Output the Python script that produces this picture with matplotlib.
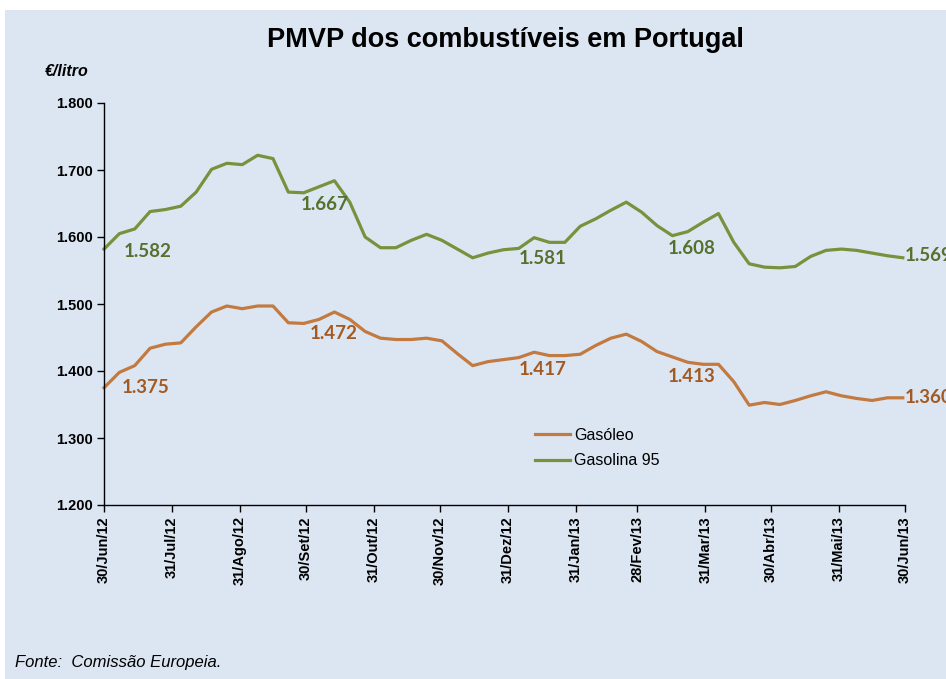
import matplotlib
matplotlib.use("Agg")
import matplotlib.pyplot as plt
import matplotlib.dates as mdates
import numpy as np
import datetime as dt

# weekly prices, 30/Jun/12 .. 29/Jun/13
gasoleo = [1.375, 1.398, 1.408, 1.434, 1.440, 1.442, 1.466, 1.488, 1.497, 1.493,
           1.497, 1.497, 1.472, 1.471, 1.477, 1.488, 1.477, 1.459, 1.449, 1.447,
           1.447, 1.449, 1.445, 1.426, 1.408, 1.414, 1.417, 1.420, 1.428, 1.423,
           1.423, 1.425, 1.438, 1.449, 1.455, 1.444, 1.429, 1.421, 1.413, 1.410,
           1.410, 1.384, 1.349, 1.353, 1.350, 1.356, 1.363, 1.369, 1.363, 1.359,
           1.356, 1.360, 1.360]
gasolina = [1.582, 1.605, 1.612, 1.638, 1.641, 1.646, 1.667, 1.701, 1.710, 1.708,
            1.722, 1.717, 1.667, 1.666, 1.675, 1.684, 1.652, 1.600, 1.584, 1.584,
            1.595, 1.604, 1.595, 1.582, 1.569, 1.576, 1.581, 1.583, 1.599, 1.592,
            1.592, 1.616, 1.627, 1.640, 1.652, 1.637, 1.617, 1.602, 1.608, 1.622,
            1.635, 1.592, 1.560, 1.555, 1.554, 1.556, 1.571, 1.580, 1.582, 1.580,
            1.576, 1.572, 1.569]
start = dt.date(2012, 6, 30)
dates = [start + dt.timedelta(days=7 * i) for i in range(len(gasoleo))]

tick_dates = [dt.date(2012, 6, 30), dt.date(2012, 7, 31), dt.date(2012, 8, 31),
              dt.date(2012, 9, 30), dt.date(2012, 10, 31), dt.date(2012, 11, 30),
              dt.date(2012, 12, 31), dt.date(2013, 1, 31), dt.date(2013, 2, 28),
              dt.date(2013, 3, 31), dt.date(2013, 4, 30), dt.date(2013, 5, 31),
              dt.date(2013, 6, 30)]
tick_labels = ["30/Jun/12", "31/Jul/12", "31/Ago/12", "30/Set/12", "31/Out/12",
               "30/Nov/12", "31/Dez/12", "31/Jan/13", "28/Fev/13", "31/Mar/13",
               "30/Abr/13", "31/Mai/13", "30/Jun/13"]

label_idx = [0, 12, 26, 38, 52]
# offsets of the value labels (pixels)
off_gasoleo = [(18, 0), (21, -11), (15, -10), (-20, -14), (2, 0)]
off_gasolina = [(20, -2), (12, -12), (15, -9), (-20, -17), (2, 2)]

c_gasoleo = "#C27A40"
c_gasolina = "#76923C"
t_gasoleo = "#A35A22"
t_gasolina = "#56702E"

plt.rcParams["font.family"] = ["Liberation Sans", "DejaVu Sans"]

fig = plt.figure(figsize=(9.46, 6.79), dpi=100)
fig.patch.set_facecolor("white")
fig.patches.append(plt.Rectangle((5 / 946, 0), 1, 1 - 10 / 679, transform=fig.transFigure,
                                 facecolor="#DCE6F2", edgecolor="none", zorder=-10))

ax = fig.add_axes([104 / 946, 1 - 505 / 679, (905 - 104) / 946, (505 - 103) / 679])
ax.set_facecolor("none")

ax.plot(dates, gasoleo, color=c_gasoleo, lw=2.3, label="Gasóleo", clip_on=False)
ax.plot(dates, gasolina, color=c_gasolina, lw=2.3, label="Gasolina 95", clip_on=False)

for i, off in zip(label_idx, off_gasoleo):
    ax.annotate(f"{gasoleo[i]:.3f}", (mdates.date2num(dates[i]), gasoleo[i]), xytext=off,
                textcoords="offset pixels", ha="left", va="center", color=t_gasoleo,
                fontsize=13.5, fontweight="bold", family=["Lato", "DejaVu Sans"],
                annotation_clip=False)
for i, off in zip(label_idx, off_gasolina):
    ax.annotate(f"{gasolina[i]:.3f}", (mdates.date2num(dates[i]), gasolina[i]), xytext=off,
                textcoords="offset pixels", ha="left", va="center", color=t_gasolina,
                fontsize=13.5, fontweight="bold", family=["Lato", "DejaVu Sans"],
                annotation_clip=False)

ax.set_xlim(mdates.date2num(tick_dates[0]), mdates.date2num(tick_dates[-1]))
ax.set_ylim(1.2, 1.8)
ax.set_yticks(np.arange(1.2, 1.801, 0.1))
ax.set_yticklabels([f"{v:.3f}" for v in np.arange(1.2, 1.801, 0.1)],
                   fontsize=10.5, fontweight="bold")
ax.set_xticks([mdates.date2num(d) for d in tick_dates])
ax.set_xticklabels(tick_labels, rotation=90, fontsize=10.5, fontweight="bold")
ax.tick_params(axis="both", direction="out", length=5, width=1, color="black", pad=3)

for s in ["top", "right"]:
    ax.spines[s].set_visible(False)
for s in ["left", "bottom"]:
    ax.spines[s].set_color("black")
    ax.spines[s].set_linewidth(1)

ax.legend(loc="upper left", bbox_to_anchor=(527 / 946, 1 - 420 / 679),
          bbox_transform=fig.transFigure, frameon=False, fontsize=11.5,
          handlelength=2.2, handletextpad=0.25, labelspacing=0.65, borderpad=0)

fig.text(505 / 946, 1 - 40 / 679, "PMVP dos combustíveis em Portugal", ha="center",
         va="center", fontsize=19.5, fontweight="bold")
fig.text(45 / 946, 1 - 72 / 679, "€/litro", ha="left", va="center", fontsize=11.5,
         fontweight="bold", style="italic")
fig.text(15 / 946, 1 - 662 / 679, "Fonte:  Comissão Europeia.", ha="left", va="center",
         fontsize=12, style="italic")

fig.savefig("out.png", dpi=100)
